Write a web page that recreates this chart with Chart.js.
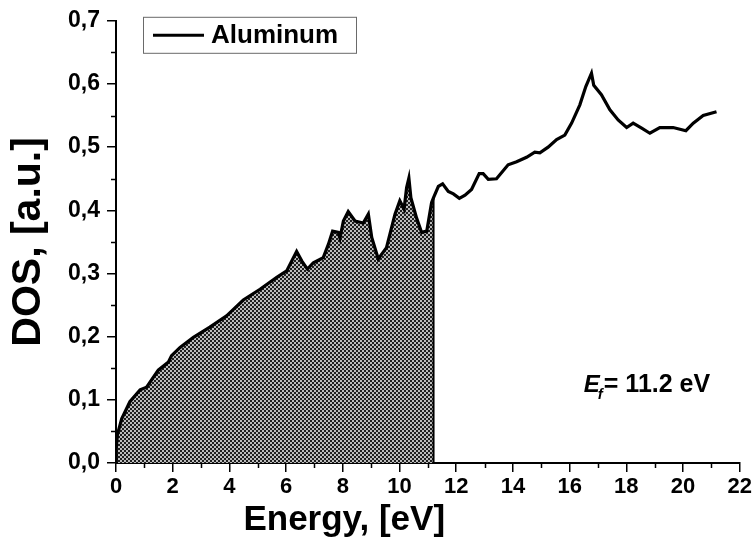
<!DOCTYPE html>
<html>
<head>
<meta charset="utf-8">
<title>Aluminum DOS</title>
<script src="https://cdn.jsdelivr.net/npm/chart.js@4.4.1/dist/chart.umd.min.js"></script>
<style>
  html, body { margin: 0; padding: 0; background: #ffffff; }
  #wrap { width: 754px; height: 543px; }
</style>
</head>
<body>
<div id="wrap"><canvas id="dos" width="754" height="543"></canvas></div>
<script>
// Density of states of aluminum versus energy
const energy = [0, 0.01, 0.05, 0.2, 0.49, 0.85, 1.08, 1.2, 1.49, 1.85, 1.96, 2.26, 2.73, 3.31, 3.9,
  4.49, 5.08, 5.67, 6.02, 6.37, 6.55, 6.75, 6.96, 7.31, 7.49, 7.64, 7.84, 7.9, 8.02, 8.19, 8.43,
  8.72, 8.9, 9.02, 9.25, 9.54, 9.84, 10.01, 10.16, 10.25, 10.33, 10.4, 10.6, 10.78, 10.96, 11.13,
  11.2, 11.37, 11.52, 11.72, 11.9, 12.11, 12.31, 12.54, 12.81, 12.95, 13.13, 13.42, 13.83, 14.13,
  14.48, 14.77, 14.95, 15.24, 15.54, 15.83, 16.07, 16.36, 16.57, 16.77, 16.85, 17.12, 17.42, 17.71,
  18.01, 18.24, 18.54, 18.83, 19.18, 19.65, 20.1, 20.36, 20.71, 21.18];
const dos = [0, 0.025, 0.045, 0.07, 0.097, 0.116, 0.12, 0.128, 0.147, 0.16, 0.17, 0.183, 0.199, 0.215, 0.233,
  0.258, 0.275, 0.294, 0.304, 0.335, 0.32, 0.307, 0.317, 0.325, 0.346, 0.367, 0.365, 0.356, 0.383, 0.398, 0.383,
  0.38, 0.394, 0.357, 0.323, 0.341, 0.394, 0.415, 0.402, 0.436, 0.451, 0.42, 0.388, 0.365, 0.367, 0.412,
  0.42, 0.438, 0.442, 0.43, 0.426, 0.419, 0.424, 0.433, 0.458, 0.458, 0.449, 0.45, 0.472, 0.477,
  0.484, 0.492, 0.491, 0.5, 0.512, 0.519, 0.538, 0.567, 0.596, 0.617, 0.598, 0.583, 0.559, 0.543,
  0.531, 0.538, 0.53, 0.522, 0.531, 0.531, 0.526, 0.538, 0.55, 0.556];
const fermiEnergy = 11.2;
const seriesLabel = 'Aluminum';
const xTitle = 'Energy, [eV]';
const yTitle = 'DOS, [a.u.]';
const xTicks = [0, 2, 4, 6, 8, 10, 12, 14, 16, 18, 20, 22];
const yTicks = [0, 0.1, 0.2, 0.3, 0.4, 0.5, 0.6, 0.7];
const xMinorTicks = [1, 3, 5, 7, 9, 11, 13, 15, 17, 19, 21];
const yMinorTicks = [0.05, 0.15, 0.25, 0.35, 0.45, 0.55, 0.65];

const FONT = '"Liberation Sans", Arial, Helvetica, sans-serif';

// points of the full curve and of the occupied part (E <= Ef)
const curve = energy.map((e, i) => ({ x: e, y: dos[i] }));
const occupied = curve.filter(p => p.x <= fermiEnergy);
const dosAtFermi = dos[energy.indexOf(fermiEnergy)];
const fermiLine = [{ x: fermiEnergy, y: 0 }, { x: fermiEnergy, y: dosAtFermi }];

// cross-hatched fill used under the occupied states
function makeHatch() {
  const c = document.createElement('canvas');
  c.width = 4; c.height = 4;
  const g = c.getContext('2d');
  g.fillStyle = '#1e1e1e';
  g.fillRect(0, 0, 4, 4);
  g.fillStyle = '#ffffff';
  g.beginPath(); g.arc(1, 1, 0.95, 0, Math.PI * 2); g.fill();
  g.beginPath(); g.arc(3, 3, 0.95, 0, Math.PI * 2); g.fill();
  return document.getElementById('dos').getContext('2d').createPattern(c, 'repeat');
}

// short minor ticks on both axes
const minorTicks = {
  id: 'minorTicks',
  afterDraw(chart) {
    const { ctx, chartArea, scales } = chart;
    ctx.save();
    ctx.strokeStyle = '#000';
    ctx.lineWidth = 1.5;
    ctx.beginPath();
    xMinorTicks.forEach(v => {
      const px = Math.round(scales.x.getPixelForValue(v)) + 0.5;
      ctx.moveTo(px, chartArea.bottom);
      ctx.lineTo(px, chartArea.bottom + 5);
    });
    yMinorTicks.forEach(v => {
      const py = Math.round(scales.y.getPixelForValue(v)) + 0.5;
      ctx.moveTo(chartArea.left, py);
      ctx.lineTo(chartArea.left - 5, py);
    });
    ctx.stroke();
    ctx.restore();
  }
};

// x-axis title, centred under the 8 eV tick
const energyTitle = {
  id: 'energyTitle',
  afterDraw(chart) {
    const { ctx, scales } = chart;
    ctx.save();
    ctx.fillStyle = '#000';
    ctx.font = 'bold 35px ' + FONT;
    ctx.textAlign = 'center';
    ctx.textBaseline = 'alphabetic';
    ctx.fillText(xTitle, scales.x.getPixelForValue(8.05), scales.x.bottom - 13);
    ctx.restore();
  }
};

// boxed legend in the upper left corner of the plot
const boxLegend = {
  id: 'boxLegend',
  afterDraw(chart) {
    const { ctx, chartArea } = chart;
    const ds = chart.data.datasets[0];
    const x0 = chartArea.left + 27, y0 = chartArea.top - 4;
    const w = 213, h = 36;
    ctx.save();
    ctx.strokeStyle = '#6a6a6a';
    ctx.lineWidth = 1;
    ctx.strokeRect(x0 + 0.5, y0 + 0.5, w, h);
    const cy = y0 + h / 2 + 0.5;
    ctx.strokeStyle = ds.borderColor;
    ctx.lineWidth = 3;
    ctx.beginPath();
    ctx.moveTo(x0 + 10, cy);
    ctx.lineTo(x0 + 61, cy);
    ctx.stroke();
    ctx.fillStyle = '#000';
    ctx.font = 'bold 26px ' + FONT;
    ctx.textBaseline = 'middle';
    ctx.fillText(ds.label, x0 + 68, cy + 1);
    ctx.restore();
  }
};

// Fermi energy annotation
const fermiNote = {
  id: 'fermiNote',
  afterDraw(chart) {
    const { ctx, scales } = chart;
    let x = scales.x.getPixelForValue(16.5);
    const y = scales.y.getPixelForValue(0.113);
    ctx.save();
    ctx.fillStyle = '#000';
    ctx.textBaseline = 'alphabetic';
    ctx.font = 'italic bold 24px ' + FONT;
    ctx.fillText('E', x, y);
    x += ctx.measureText('E').width;
    ctx.font = 'italic bold 15px ' + FONT;
    ctx.fillText('f', x - 2, y + 7);
    x += ctx.measureText('f').width - 1;
    ctx.font = 'bold 25px ' + FONT;
    ctx.fillText('= ' + fermiEnergy.toFixed(1) + ' eV', x, y);
    ctx.restore();
  }
};

const chart = new Chart(document.getElementById('dos'), {
  type: 'line',
  data: {
    datasets: [
      {
        label: seriesLabel,
        data: curve,
        borderColor: '#000000',
        borderWidth: 3.2,
        pointRadius: 0,
        fill: false,
        tension: 0,
        order: 0
      },
      {
        label: 'occupied',
        data: occupied,
        borderWidth: 0,
        borderColor: 'rgba(0,0,0,0)',
        backgroundColor: makeHatch(),
        pointRadius: 0,
        fill: 'origin',
        tension: 0,
        order: 2
      },
      {
        label: 'Ef',
        data: fermiLine,
        borderColor: '#000000',
        borderWidth: 2,
        pointRadius: 0,
        fill: false,
        order: 1
      }
    ]
  },
  options: {
    responsive: false,
    animation: false,
    layout: { padding: { top: 19, right: 14, left: 0, bottom: 0 } },
    plugins: { legend: { display: false }, tooltip: { enabled: false } },
    scales: {
      x: {
        type: 'linear',
        min: 0, max: 22,
        afterFit(scale) { scale.height = 80; },
        afterBuildTicks(scale) { scale.ticks = xTicks.map(v => ({ value: v })); },
        ticks: {
          color: '#000', font: { family: FONT, size: 22, weight: 'bold' },
          padding: 2, maxRotation: 0, autoSkip: false,
          callback: v => String(v)
        },
        grid: { drawOnChartArea: false, drawTicks: true, tickLength: 9, color: '#000', lineWidth: 1.5 },
        border: { display: true, color: '#000', width: 2 },
        title: { display: false }
      },
      y: {
        type: 'linear',
        min: 0, max: 0.7,
        afterFit(scale) { scale.width = 116; },
        afterBuildTicks(scale) { scale.ticks = yTicks.map(v => ({ value: v })); },
        ticks: {
          color: '#000', font: { family: FONT, size: 23, weight: 'bold' },
          padding: 7, autoSkip: false,
          callback: v => v.toFixed(1).replace('.', ',')
        },
        grid: { drawOnChartArea: false, drawTicks: true, tickLength: 9, color: '#000', lineWidth: 1.5 },
        border: { display: true, color: '#000', width: 2 },
        title: {
          display: true, text: yTitle, color: '#000',
          font: { family: FONT, size: 41, weight: 'bold' },
          padding: { top: 4, bottom: 0 }
        }
      }
    }
  },
  plugins: [minorTicks, boxLegend, fermiNote, energyTitle]
});
</script>
</body>
</html>
